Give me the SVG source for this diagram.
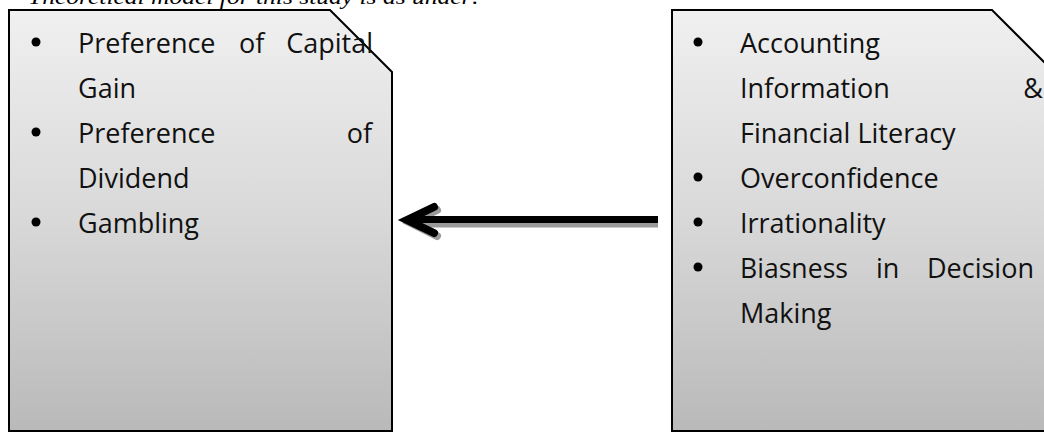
<svg xmlns="http://www.w3.org/2000/svg" width="1044" height="432" viewBox="0 0 1044 432">
  <defs>
    <linearGradient id="boxFill" gradientUnits="userSpaceOnUse" x1="0" y1="10" x2="0" y2="432">
      <stop offset="0" stop-color="#f0f0f0"/>
      <stop offset="0.5" stop-color="#d8d8d8"/>
      <stop offset="1" stop-color="#b9b9b9"/>
    </linearGradient>
  </defs>
  <style>
    .box { fill: url(#boxFill); stroke: #000; stroke-width: 2; }
    .txt { font-family: "Open Sans", "Noto Sans", sans-serif; font-size: 27px; fill: #111; }
    .bul { fill: #000; }
    .cap { font-family: "Liberation Serif", serif; font-style: italic; font-size: 22px; fill: #000; }
    .shaft { stroke: #000; stroke-width: 7; fill: none; }
    .head { stroke: #000; stroke-width: 8; fill: none; stroke-linecap: round; stroke-linejoin: miter; }
    .shadow { stroke: #9a9a9a; fill: none; }
  </style>
  <rect width="1044" height="432" fill="#fff"/>
  <text class="cap" x="28" y="4" textLength="452" lengthAdjust="spacingAndGlyphs">Theoretical model for this study is as under:</text>

  <g id="node-outcomes">
    <path class="box" d="M9,10 H330 L392,72 V431 H9 Z"/>
    <circle class="bul" cx="36" cy="42" r="4.5"/>
    <circle class="bul" cx="36" cy="132" r="4.5"/>
    <circle class="bul" cx="36" cy="222" r="4.5"/>
    <text class="txt" x="78" y="53">Preference</text>
    <text class="txt" x="239" y="53">of</text>
    <text class="txt" x="373" y="53" text-anchor="end">Capital</text>
    <text class="txt" x="78" y="98">Gain</text>
    <text class="txt" x="78" y="143">Preference</text>
    <text class="txt" x="372" y="143" text-anchor="end">of</text>
    <text class="txt" x="78" y="188">Dividend</text>
    <text class="txt" x="78" y="233">Gambling</text>
  </g>

  <g id="node-factors">
    <path class="box" d="M672,10 H992 L1054,72 V431 H672 Z"/>
    <circle class="bul" cx="698" cy="42" r="4.5"/>
    <circle class="bul" cx="698" cy="177" r="4.5"/>
    <circle class="bul" cx="698" cy="222" r="4.5"/>
    <circle class="bul" cx="698" cy="267" r="4.5"/>
    <text class="txt" x="740" y="53">Accounting</text>
    <text class="txt" x="740" y="98">Information</text>
    <text class="txt" x="1043" y="98" text-anchor="end">&amp;</text>
    <text class="txt" x="740" y="143">Financial Literacy</text>
    <text class="txt" x="740" y="188">Overconfidence</text>
    <text class="txt" x="740" y="233">Irrationality</text>
    <text class="txt" x="740" y="278" textLength="108" lengthAdjust="spacingAndGlyphs">Biasness</text>
    <text class="txt" x="876" y="278">in</text>
    <text class="txt" x="1034" y="278" text-anchor="end">Decision</text>
    <text class="txt" x="740" y="323">Making</text>
  </g>

  <g id="connectors">
    <path class="shadow" stroke-width="5" d="M412,225 H658"/>
    <path class="shadow" stroke-width="8" stroke-linecap="round" d="M437,210 L411,223 L437,236"/>
    <path class="shaft" d="M412,219.5 H658"/>
    <path class="head" d="M434,207 L407,220 L434,233"/>
  </g>
</svg>
